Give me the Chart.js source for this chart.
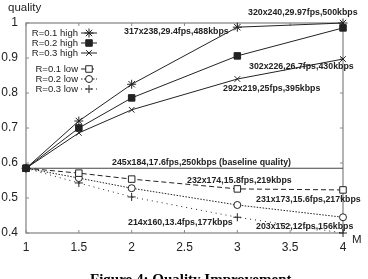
<!DOCTYPE html>
<html>
<head>
<meta charset="utf-8">
<script src="https://cdn.jsdelivr.net/npm/chart.js@4/dist/chart.umd.min.js"></script>
<style>
  html, body { margin: 0; padding: 0; background: #fff; }
  #wrap { width: 368px; height: 279px; position: relative; }
</style>
</head>
<body>
<div id="wrap"><canvas id="chart" width="368" height="279"></canvas></div>
<script>
// Data
const mValues = [1, 1.5, 2, 3, 4];
const r01High = [0.585, 0.720, 0.825, 0.988, 1.000];
const r02High = [0.585, 0.700, 0.786, 0.906, 0.986];
const r03High = [0.585, 0.686, 0.752, 0.840, 0.897];
const r01Low  = [0.585, 0.571, 0.554, 0.526, 0.523];
const r02Low  = [0.585, 0.557, 0.528, 0.480, 0.445];
const r03Low  = [0.585, 0.543, 0.503, 0.445, 0.400];
const baselineM = [1, 4];
const baselineQ = [0.585, 0.585];
const seriesNames = ["R=0.1 high", "R=0.2 high", "R=0.3 high", "R=0.1 low", "R=0.2 low", "R=0.3 low"];

const INK = "#222";
const FRAME = "#8a8a8a";
const SANS = "'Liberation Sans', Arial, sans-serif";

function pts(ys, xs) { return ys.map((y, i) => ({ x: (xs || mValues)[i], y })); }

function series(label, ys, style, dash) {
  return {
    label,
    data: pts(ys),
    borderColor: INK,
    borderWidth: 1,
    borderDash: dash || [],
    pointStyle: style.shape,
    pointRadius: style.r,
    pointBorderWidth: 1,
    pointBorderColor: INK,
    pointBackgroundColor: style.fill,
    fill: false,
    tension: 0,
    clip: false
  };
}

const markers = [
  { shape: "star", r: 4.5, fill: INK },
  { shape: "rect", r: 4.6, fill: INK },
  { shape: "crossRot", r: 4, fill: INK },
  { shape: "rect", r: 4.6, fill: "#fff" },
  { shape: "circle", r: 3.5, fill: "#fff" },
  { shape: "cross", r: 4, fill: INK }
];
const dashes = [[], [], [], [5, 3], [1.5, 1.5], [1, 4]];

const datasets = [
  series(seriesNames[0], r01High, markers[0], dashes[0]),
  series(seriesNames[1], r02High, markers[1], dashes[1]),
  series(seriesNames[2], r03High, markers[2], dashes[2]),
  series(seriesNames[3], r01Low, markers[3], dashes[3]),
  series(seriesNames[4], r02Low, markers[4], dashes[4]),
  series(seriesNames[5], r03Low, markers[5], dashes[5]),
  {
    label: "baseline",
    data: pts(baselineQ, baselineM),
    borderColor: "#444",
    borderWidth: 1.2,
    pointRadius: 0,
    clip: false
  }
];

// text labels next to the points: [text, left px, middle px]
const pointNotes = [
  ["320x240,29.97fps,500kbps", 248, 13],
  ["317x238,29.4fps,488kbps", 124, 32],
  ["302x226,26.7fps,430kbps", 249, 67],
  ["292x219,25fps,395kbps", 223, 89],
  ["245x184,17.6fps,250kbps (baseline quality)", 112, 163],
  ["232x174,15.8fps,219kbps", 187, 181],
  ["231x173,15.6fps,217kbps", 256, 200],
  ["214x160,13.4fps,177kbps", 128, 223],
  ["203x152,12fps,156kbps", 256, 227]
];

const framePlugin = {
  id: "frame",
  beforeDatasetsDraw(chart) {
    const { ctx, chartArea: a, scales } = chart;
    ctx.save();
    ctx.strokeStyle = FRAME;
    ctx.lineWidth = 1.3;
    ctx.strokeRect(a.left, a.top, a.right - a.left, a.bottom - a.top);
    ctx.lineWidth = 1;
    scales.x.ticks.forEach(t => {
      const x = scales.x.getPixelForValue(t.value);
      ctx.beginPath();
      ctx.moveTo(x, a.bottom); ctx.lineTo(x, a.bottom - 3);
      ctx.moveTo(x, a.top); ctx.lineTo(x, a.top + 3);
      ctx.stroke();
    });
    scales.y.ticks.forEach(t => {
      const y = scales.y.getPixelForValue(t.value);
      ctx.beginPath();
      ctx.moveTo(a.left, y); ctx.lineTo(a.left + 3, y);
      ctx.moveTo(a.right, y); ctx.lineTo(a.right - 3, y);
      ctx.stroke();
    });
    ctx.restore();
  },
  afterDraw(chart) {
    const { ctx } = chart;
    ctx.save();
    // axis titles
    ctx.fillStyle = INK;
    ctx.font = "11.5px " + SANS;
    ctx.textBaseline = "middle";
    ctx.textAlign = "left";
    ctx.fillText("quality", 8, 8);
    ctx.fillText("M", 352, 240);

    // notes
    ctx.font = "bold 8.8px " + SANS;
    pointNotes.forEach(([txt, x, y]) => ctx.fillText(txt, x, y));

    // legend
    const rows = [33, 43, 53, 69, 79, 89];
    ctx.font = "9.5px " + SANS;
    rows.forEach((y, i) => {
      ctx.fillStyle = INK;
      ctx.textAlign = "right";
      ctx.fillText(seriesNames[i], 78, y);
      ctx.strokeStyle = INK;
      ctx.lineWidth = 1;
      ctx.setLineDash(dashes[i]);
      ctx.beginPath();
      ctx.moveTo(81, y); ctx.lineTo(97, y);
      ctx.stroke();
      ctx.setLineDash([]);
      const m = markers[i];
      ctx.fillStyle = m.fill;
      Chart.helpers.drawPoint(ctx, { pointStyle: m.shape, radius: m.r, borderWidth: 1, rotation: 0 }, 89, y);
    });

    // caption (cut by the bottom edge)
    ctx.fillStyle = "#000";
    ctx.textAlign = "left";
    ctx.textBaseline = "top";
    ctx.font = "bold 15px 'Liberation Serif', 'Times New Roman', serif";
    ctx.fillText("Figure 4: Quality Improvement", 90, 273);
    ctx.restore();
  }
};

const tickFmt = v => String(Number(v.toFixed(2)));

new Chart(document.getElementById("chart"), {
  type: "line",
  data: { datasets },
  options: {
    responsive: false,
    animation: false,
    layout: { padding: { top: 23, right: 25, left: 0, bottom: 0 } },
    plugins: { legend: { display: false }, tooltip: { enabled: false } },
    scales: {
      x: {
        type: "linear",
        min: 1, max: 4,
        grid: { display: false, drawTicks: false },
        border: { display: false },
        ticks: { stepSize: 0.5, padding: 7, color: INK, font: { family: SANS, size: 12 }, callback: tickFmt },
        afterFit(s) { s.height = 46; }
      },
      y: {
        min: 0.4, max: 1,
        grid: { display: false, drawTicks: false },
        border: { display: false },
        ticks: { stepSize: 0.1, padding: 8, color: INK, font: { family: SANS, size: 12 }, callback: tickFmt },
        afterFit(s) { s.width = 26; }
      }
    }
  },
  plugins: [framePlugin]
});
</script>
</body>
</html>
